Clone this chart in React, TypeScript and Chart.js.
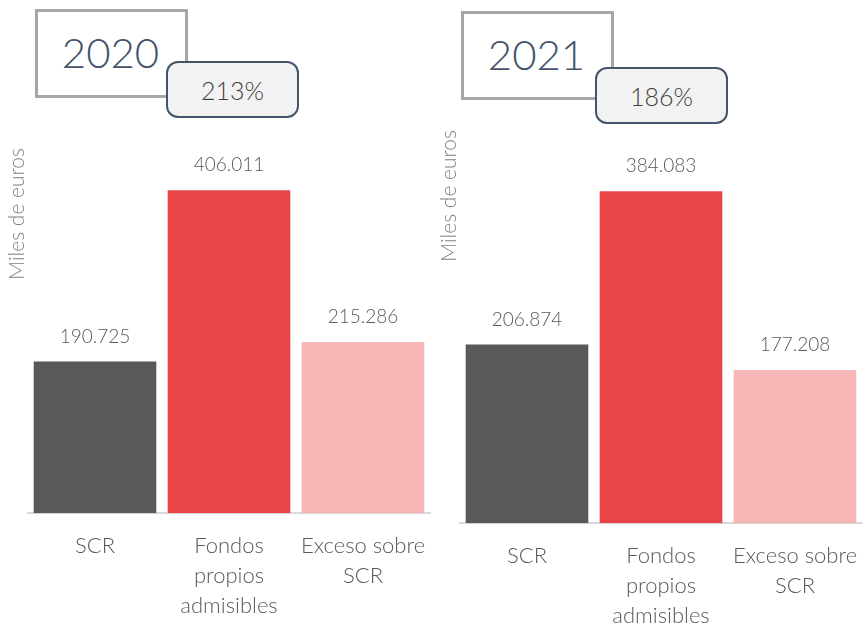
import React, { useEffect, useRef } from "react";
import { Chart, registerables } from "chart.js";
Chart.register(...registerables);

const categories: string[][] = [["SCR"], ["Fondos", "propios", "admisibles"], ["Exceso sobre", "SCR"]];
const years = ["2020", "2021"];
const ratios = ["213%", "186%"];
const values2020 = [190725, 406011, 215286];
const values2021 = [206874, 384083, 177208];
const barColors = ["#595959", "#e84548", "#f7b6b6"];
const axisTitle = "Miles de euros";

const FONT = "Lato, 'Open Sans', sans-serif";

function fmt(v: number): string {
  return String(v).replace(/\B(?=(\d{3})+(?!\d))/g, ".");
}

const valueLabels = {
  id: "valueLabels",
  afterDatasetsDraw(chart: any) {
    const ctx = chart.ctx;
    const meta = chart.getDatasetMeta(0);
    const data = chart.data.datasets[0].data as number[];
    ctx.save();
    ctx.font = `300 19px ${FONT}`;
    ctx.fillStyle = "#595959";
    ctx.textAlign = "center";
    ctx.textBaseline = "middle";
    meta.data.forEach((el: any, i: number) => {
      ctx.fillText(fmt(data[i]), el.x, el.y - 25);
    });
    ctx.restore();
  },
};

function Panel({ values, yMax, padTop, height }: { values: number[]; yMax: number; padTop: number; height: number }) {
  const ref = useRef<HTMLCanvasElement>(null);
  useEffect(() => {
    if (!ref.current) return;
    const chart = new Chart(ref.current, {
      type: "bar",
      data: {
        labels: categories,
        datasets: [
          {
            data: values,
            backgroundColor: barColors,
            categoryPercentage: 1,
            barPercentage: 0.915,
          },
        ],
      },
      options: {
        animation: false,
        responsive: false,
        maintainAspectRatio: false,
        layout: { padding: { left: 3, right: 2, top: padTop, bottom: 0 } },
        plugins: { legend: { display: false }, tooltip: { enabled: false } },
        scales: {
          x: {
            afterFit(scale: any) {
              scale.paddingLeft = 0;
              scale.paddingRight = 0;
            },
            grid: { display: false, drawTicks: false },
            border: { display: true, color: "#d9d9d9", width: 2 },
            ticks: {
              color: "#595959",
              font: { family: FONT, size: 22, weight: "300", lineHeight: 1.36 },
              padding: 18,
              maxRotation: 0,
              autoSkip: false,
            },
          },
          y: {
            min: 0,
            max: yMax,
            grid: { display: false, drawTicks: false },
            border: { display: false },
            ticks: { display: false },
            title: {
              display: true,
              text: axisTitle,
              align: "end",
              color: "#7f7f7f",
              padding: { top: 4, bottom: 0 },
              font: { family: FONT, size: 21, weight: "300", lineHeight: 1 },
            },
          },
        },
      },
      plugins: [valueLabels],
    } as any);
    return () => chart.destroy();
  }, []);
  return <canvas ref={ref} width={432} height={height} style={{ width: 432, height, display: "block" }} />;
}

const yearBox = (left: number, top: number, text: string) => (
  <div
    style={{
      position: "absolute",
      left,
      top,
      width: 153,
      height: 89,
      boxSizing: "border-box",
      border: "3px solid #a6a6a6",
      background: "#ffffff",
      color: "#44546a",
      fontFamily: FONT,
      fontWeight: 300,
      fontSize: 42,
      display: "flex",
      alignItems: "center",
      justifyContent: "center",
      paddingRight: 2,
      paddingBottom: 4,
    }}
  >
    {text}
  </div>
);

const ratioBox = (left: number, top: number, text: string) => (
  <div
    style={{
      position: "absolute",
      left,
      top,
      width: 133,
      height: 57,
      boxSizing: "border-box",
      border: "2px solid #44546a",
      borderRadius: 12,
      background: "#f2f2f2",
      color: "#404040",
      fontFamily: FONT,
      fontWeight: 300,
      fontSize: 25,
      display: "flex",
      alignItems: "center",
      justifyContent: "center",
    }}
  >
    {text}
  </div>
);

export default function App() {
  return (
    <div style={{ position: "fixed", left: 0, top: 0, width: 863, height: 624, background: "#fff", overflow: "hidden" }}>
      <div style={{ position: "absolute", left: 0, top: 0 }}>
        <Panel values={values2020} yMax={459000} padTop={148} height={639} />
      </div>
      <div style={{ position: "absolute", left: 432, top: 0 }}>
        <Panel values={values2021} yMax={455000} padTop={130} height={649} />
      </div>
      {yearBox(35, 9, years[0])}
      {ratioBox(166, 61, ratios[0])}
      {yearBox(461, 11, years[1])}
      {ratioBox(595, 67, ratios[1])}
    </div>
  );
}
